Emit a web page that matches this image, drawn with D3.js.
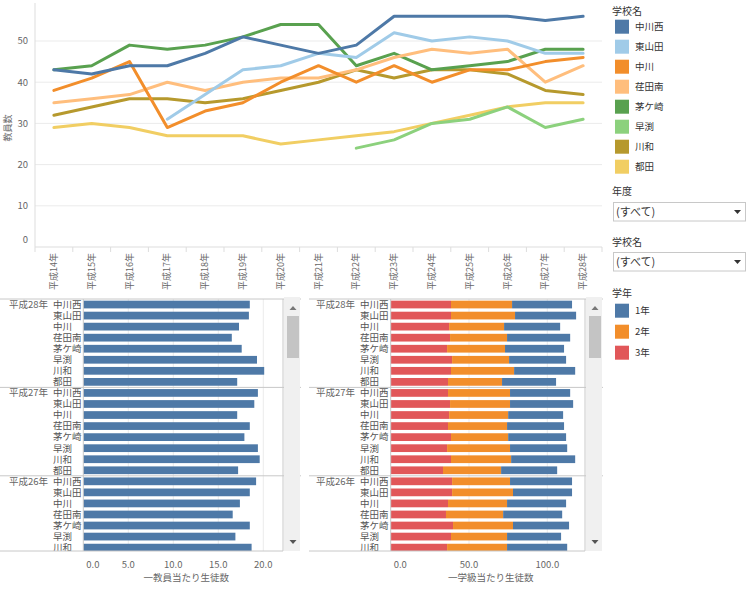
<!DOCTYPE html>
<html><head><meta charset="utf-8">
<script src="https://cdn.jsdelivr.net/npm/d3@7"></script>
<style>
html,body{margin:0;padding:0;background:#fff;}
svg text{font-family:"Noto Sans CJK JP","Noto Sans",sans-serif;}
</style></head>
<body><svg id="c" width="749" height="589"></svg>
<script>
// ---------- data ----------
const years = ["平成14年","平成15年","平成16年","平成17年","平成18年","平成19年","平成20年","平成21年","平成22年","平成23年","平成24年","平成25年","平成26年","平成27年","平成28年"];
const schools = ["中川西","東山田","中川","荏田南","茅ケ崎","早渕","川和","都田"];
const schoolColors = ["#4e79a7","#a0cbe8","#f28e2b","#ffbe7d","#59a14f","#8cd17d","#b6992d","#f1ce63"];
const tNakagawanishi = [43,42,44,44,47,51,49,47,49,56,56,56,56,55,56];
const tHigashiyamata = [null,null,null,31,37,43,44,47,46,52,50,51,50,47,47];
const tNakagawa      = [38,41,45,29,33,35,40,44,40,44,40,43,43,45,46];
const tSaedaminami   = [35,36,37,40,38,40,41,41,43,46,48,47,48,40,44];
const tChigasaki     = [43,44,49,48,49,51,54,54,44,47,43,44,45,48,48];
const tHayabuchi     = [null,null,null,null,null,null,null,null,24,26,30,31,34,29,31];
const tKawawa        = [32,34,36,36,35,36,38,40,43,41,43,43,42,38,37];
const tTsuda         = [29,30,29,27,27,27,25,26,27,28,30,32,34,35,35];
const teacherSeries = [tNakagawanishi,tHigashiyamata,tNakagawa,tSaedaminami,tChigasaki,tHayabuchi,tKawawa,tTsuda];
const yTicks = [0,10,20,30,40,50];

const barYears = ["平成28年","平成27年","平成26年"];
const perTeacher28 = [18.5,18.4,17.3,16.5,17.6,19.3,20.1,17.1];
const perTeacher27 = [19.4,19.0,17.1,18.5,17.9,19.4,19.6,17.2];
const perTeacher26 = [19.2,18.5,17.4,16.6,18.5,16.9,18.7];
const perTeacher = [perTeacher28,perTeacher27,perTeacher26];

const grades = ["1年","2年","3年"];
const gradeColors = ["#4e79a7","#f28e2b","#e15759"];
const grade1_28 = [38.3,39.0,35.8,40.3,37.7,36.4,39.0,34.5];
const grade2_28 = [39.0,40.9,35.1,36.4,37.0,36.4,40.3,34.5];
const grade3_28 = [38.5,38.5,37.3,37.9,36.0,39.2,38.5,36.6];
const grade1_27 = [38.4,40.3,35.1,36.4,37.0,36.5,40.9,35.8];
const grade2_27 = [39.6,38.3,37.7,37.7,36.5,40.2,38.4,37.1];
const grade3_27 = [36.6,37.9,37.3,36.6,38.5,36.0,38.5,33.4];
const grade1_26 = [39.6,37.7,37.7,37.7,35.8,34.5,38.4];
const grade2_26 = [37.0,38.9,37.7,36.5,38.3,35.8,38.3];
const grade3_26 = [39.2,39.2,36.6,35.3,39.8,38.5,36.0];
const gradeData = [[grade1_28,grade2_28,grade3_28],[grade1_27,grade2_27,grade3_27],[grade1_26,grade2_26,grade3_26]];
const leftTicks = [0,5,10,15,20];
const rightTicks = [0,50,100];

// ---------- drawing ----------
const svg = d3.select("#c");
const gray = "#666", txt = "#555", grid = "#ebebeb", fs = 9.5;

// === line chart ===
const x = d3.scaleBand().domain(years).range([35, 602]).padding(0);
const y = d3.scaleLinear().domain([0, 50]).range([247, 41]);
const lc = svg.append("g");
lc.selectAll("line.grid").data(yTicks.filter(d=>d>0)).join("line")
  .attr("x1",35).attr("x2",602).attr("y1",d=>y(d)).attr("y2",d=>y(d))
  .attr("stroke",grid).attr("stroke-width",1);
lc.append("line").attr("x1",35).attr("x2",602).attr("y1",y(0)).attr("y2",y(0)).attr("stroke","#ddd");
lc.append("line").attr("x1",35).attr("x2",35).attr("y1",3).attr("y2",y(0)).attr("stroke","#ddd");
lc.selectAll("line.tk").data(years).join("line")
  .attr("x1",d=>x(d)+x.bandwidth()).attr("x2",d=>x(d)+x.bandwidth())
  .attr("y1",y(0)).attr("y2",y(0)+5).attr("stroke","#ddd");
lc.append("line").attr("x1",35).attr("x2",35).attr("y1",y(0)).attr("y2",y(0)+5).attr("stroke","#ddd");
lc.selectAll("text.yl").data(yTicks).join("text")
  .attr("x",28).attr("y",d=> d===0 ? y(d)-7 : y(d)).attr("dy","0.35em")
  .attr("text-anchor","end").attr("font-size",fs).attr("fill",gray).text(d=>d);
lc.append("text").attr("transform","translate(8,128) rotate(-90)")
  .attr("text-anchor","middle").attr("dy","0.35em").attr("font-size",9).attr("fill",gray).text("教員数");
lc.selectAll("text.xl").data(years).join("text")
  .attr("transform",d=>`translate(${x(d)+x.bandwidth()/2},253) rotate(-90)`)
  .attr("text-anchor","end").attr("dy","0.35em").attr("font-size",9).attr("fill",gray).text(d=>d);
const line = d3.line().defined(d=>d!=null)
  .x((d,i)=>x(years[i])+x.bandwidth()/2).y(d=>y(d));
const order = d3.range(schools.length).reverse();
lc.selectAll("path.ln").data(order).join("path")
  .attr("d",i=>line(teacherSeries[i])).attr("fill","none")
  .attr("stroke",i=>schoolColors[i]).attr("stroke-width",3)
  .attr("stroke-linejoin","round").attr("stroke-linecap","round");

// === bar panels ===
const rows = [];
barYears.forEach((yr,gi)=>{
  perTeacher[gi].forEach((v,si)=>rows.push({gi, si, yr, school:schools[si], v,
    g:[gradeData[gi][0][si],gradeData[gi][1][si],gradeData[gi][2][si]]}));
});
const rowStep = 11.05, panelTop = 299, panelBottom = 551;
const yb = d3.scaleBand().domain(d3.range(rows.length))
  .range([panelTop, panelTop + rows.length*rowStep]).paddingInner(0.3).paddingOuter(0.15);
const defs = svg.append("defs");
defs.append("clipPath").attr("id","clipP").append("rect")
  .attr("x",0).attr("y",panelTop).attr("width",749).attr("height",panelBottom-panelTop);

function panel(opt){
  const g = svg.append("g");
  const xs = opt.scale;
  const inner = g.append("g").attr("clip-path","url(#clipP)");
  inner.selectAll("line.vg").data(opt.ticks.filter(d=>d>0)).join("line")
    .attr("x1",d=>xs(d)).attr("x2",d=>xs(d)).attr("y1",panelTop).attr("y2",panelBottom)
    .attr("stroke",grid);
  opt.drawBars(inner, xs);
  inner.selectAll("text.sc").data(rows).join("text")
    .attr("x",opt.schoolX).attr("y",(d,i)=>yb(i)+yb.bandwidth()/2).attr("dy","0.35em")
    .attr("font-size",fs).attr("fill",txt).text(d=>d.school);
  inner.selectAll("text.yr").data(barYears).join("text")
    .attr("x",opt.yearX).attr("y",(d,gi)=>yb(gi*8)+yb.bandwidth()/2).attr("dy","0.35em")
    .attr("font-size",fs).attr("fill",gray).text(d=>d);
  // separators
  const seps = [panelTop].concat(barYears.slice(1).map((d,gi)=>panelTop+(gi+1)*8*rowStep));
  g.selectAll("line.sep").data(seps).join("line")
    .attr("x1",opt.left).attr("x2",opt.right+18).attr("y1",d=>d).attr("y2",d=>d).attr("stroke","#c8c8c8");
  g.append("line").attr("x1",opt.left).attr("x2",opt.right).attr("y1",panelBottom).attr("y2",panelBottom).attr("stroke","#c8c8c8");
  g.append("line").attr("x1",xs(0)).attr("x2",xs(0)).attr("y1",panelTop).attr("y2",panelBottom).attr("stroke","#c8c8c8");
  g.append("line").attr("x1",opt.right).attr("x2",opt.right).attr("y1",panelTop).attr("y2",panelBottom).attr("stroke","#c8c8c8");
  // scrollbar
  const sx = opt.right+1;
  g.append("rect").attr("x",sx).attr("y",panelTop-2).attr("width",16).attr("height",panelBottom-panelTop+2).attr("fill","#f0f0f0");
  g.append("rect").attr("x",sx+3).attr("y",316).attr("width",12).attr("height",42).attr("fill","#c4c4c4");
  g.append("path").attr("d",`M${sx+5.5},310 L${sx+12.5},310 L${sx+9},306 Z`).attr("fill","#777");
  g.append("path").attr("d",`M${sx+5.5},540 L${sx+12.5},540 L${sx+9},544 Z`).attr("fill","#555");
  // axis
  g.selectAll("text.ax").data(opt.ticks).join("text")
    .attr("x",d=> d===0 ? xs(d)+3 : xs(d)).attr("y",565).attr("dy","0.35em")
    .attr("text-anchor",d=> d===0 ? "start":"middle")
    .attr("font-size",fs).attr("fill",gray).text(d=>d3.format(".1f")(d));
  g.append("text").attr("x",(xs(0)+opt.right)/2+3).attr("y",578).attr("dy","0.35em")
    .attr("text-anchor","middle").attr("font-size",fs).attr("fill",gray).text(opt.title);
}

const xL = d3.scaleLinear().domain([0,20]).range([83.3,263.3]);
panel({scale:xL, ticks:leftTicks, left:0, right:283, schoolX:53, yearX:9, title:"一教員当たり生徒数",
  drawBars:(g,xs)=>{
    g.selectAll("rect.b").data(rows).join("rect")
      .attr("x",xs(0)).attr("y",(d,i)=>yb(i)).attr("height",yb.bandwidth())
      .attr("width",d=>xs(d.v)-xs(0)).attr("fill","#4e79a7");
  }});

const xR = d3.scaleLinear().domain([0,100]).range([390.7,547.3]);
const stackOrder = [2,1,0]; // 3年, 2年, 1年 from left
panel({scale:xR, ticks:rightTicks, left:309, right:585, schoolX:360, yearX:316, title:"一学級当たり生徒数",
  drawBars:(g,xs)=>{
    rows.forEach((r,i)=>{
      let acc = 0;
      stackOrder.forEach(k=>{
        g.append("rect").attr("x",xs(acc)).attr("y",yb(i)).attr("height",yb.bandwidth())
          .attr("width",xs(acc+r.g[k])-xs(acc)).attr("fill",gradeColors[k]);
        acc += r.g[k];
      });
    });
  }});

// === legends & filters ===
const lg = svg.append("g");
lg.append("text").attr("x",612).attr("y",11).attr("dy","0.35em").attr("font-size",10).attr("fill","#333").text("学校名");
const li = lg.selectAll("g.li").data(schools).join("g").attr("transform",(d,i)=>`translate(615,${26.7+20*i})`);
li.append("rect").attr("x",0).attr("y",-7).attr("width",14).attr("height",14).attr("fill",(d,i)=>schoolColors[i]);
li.append("text").attr("x",20).attr("dy","0.35em").attr("font-size",fs).attr("fill","#333").text(d=>d);

function dropdown(title, ty, by){
  lg.append("text").attr("x",612).attr("y",ty).attr("dy","0.35em").attr("font-size",10).attr("fill","#333").text(title);
  lg.append("rect").attr("x",613.5).attr("y",by).attr("width",132).attr("height",18.5).attr("fill","#fff").attr("stroke","#c8c8c8");
  lg.append("text").attr("x",616).attr("y",by+9.5).attr("dy","0.35em").attr("font-size",11).attr("fill","#333").text("(すべて)");
  lg.append("path").attr("d",`M${734},${by+7.5} L${741},${by+7.5} L${737.5},${by+11.5} Z`).attr("fill","#333");
}
dropdown("年度",191,202.5);
dropdown("学校名",242,252.5);

lg.append("text").attr("x",612).attr("y",293).attr("dy","0.35em").attr("font-size",10).attr("fill","#333").text("学年");
const gi2 = lg.selectAll("g.gi").data(grades).join("g").attr("transform",(d,i)=>`translate(615,${310.7+21*i})`);
gi2.append("rect").attr("x",0).attr("y",-7).attr("width",14).attr("height",14).attr("fill",(d,i)=>gradeColors[i]);
gi2.append("text").attr("x",20).attr("dy","0.35em").attr("font-size",fs).attr("fill","#333").text(d=>d);
</script></body></html>
